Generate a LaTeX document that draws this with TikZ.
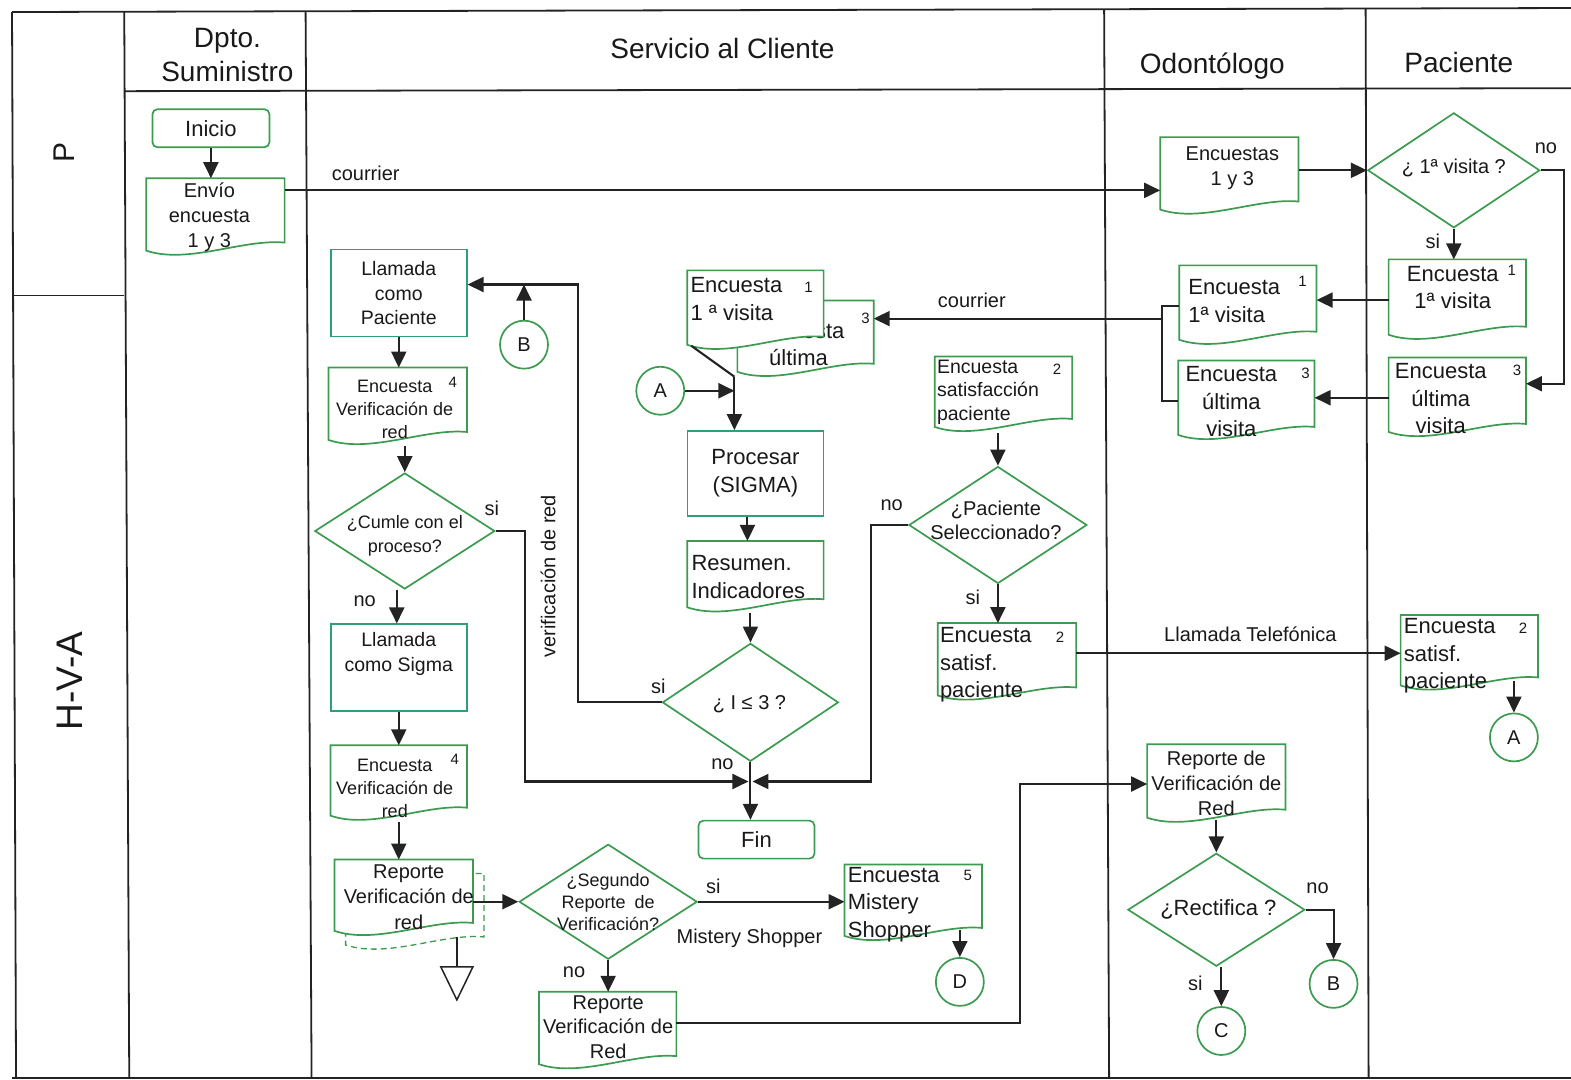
\documentclass[tikz,border=0pt]{standalone}
\usepackage{fontspec}
\setmainfont{Liberation Sans}
\usetikzlibrary{arrows.meta,shapes.geometric,calc}

\definecolor{grn}{RGB}{60,155,80}
\definecolor{teal2}{RGB}{45,160,120}
\definecolor{lc}{RGB}{35,35,35}
\definecolor{txt}{RGB}{25,25,25}

\newcommand\fA{\fontsize{20}{25}\selectfont}
\newcommand\fB{\fontsize{18}{23}\selectfont}
\newcommand\fC{\fontsize{22}{27.5}\selectfont}
\newcommand\fH{\fontsize{28}{34}\selectfont}
\newcommand\fN{\fontsize{15}{17}\selectfont}

% document symbol (wavy bottom) drawn around an empty box node
\newcommand\docpath[2][]{%
  \path[docline,#1] let \p1=(#2.south west), \p2=(#2.north east), \n1={\x2-\x1} in
    (\x1,\y2) -- (\x2,\y2) -- (\x2,{\y1+14pt})
    .. controls ({\x2-0.3*\n1},{\y1+18pt}) and ({\x1+0.3*\n1},{\y1-8pt}) ..
    (\x1,{\y1+6pt}) -- cycle;}

\begin{document}
\begin{tikzpicture}[x=1.002pt,y=-1.002pt,
  frame/.style={draw=lc, line width=1.8pt},
  ln/.style={draw=lc, line width=2.1pt},
  arr/.style={ln, -{Triangle[length=16pt,width=15pt]}},
  sz/.style 2 args={minimum width=#1pt, minimum height=#2pt},
  docline/.style={draw=grn, line width=1.7pt, fill=white},
  docbox/.style={inner sep=0pt},
  process/.style={draw=teal2, line width=1.7pt, fill=white, text=txt, font=\fA, align=center, inner sep=0pt},
  terminal/.style={process, draw=grn, rounded corners=5pt, font=\fC},
  decision/.style={diamond, draw=grn, line width=1.7pt, fill=white, inner sep=0pt},
  connector/.style={circle, draw=grn, line width=1.7pt, fill=white, minimum size=48pt, inner sep=0pt, text=txt, font=\fA},
  txtc/.style={inner sep=0pt, text=txt, font=\fA, align=center},
  txtl/.style={inner sep=0pt, text=txt, font=\fC, align=left, anchor=west},
  numlbl/.style={inner sep=0pt, text=txt, font=\fN},
  flowlbl/.style={inner sep=0pt, text=txt, font=\fA},
  hdr/.style={inner sep=0pt, text=txt, font=\fH, align=center}
]
\useasboundingbox (0,0) rectangle (1568,1077);

% ---------- swimlane frame ----------
\draw[frame] (12,12) -- (1568,8);
\draw[frame] (124,91) -- (1568,88);
\draw[frame] (12,295) -- (124,295);
\draw[frame] (12,1076) -- (1568,1076);
\draw[frame] (12,12) -- (16,1076);
\draw[frame] (124,11) -- (129,1076);
\draw[frame] (305,11) -- (311,1076);
\draw[frame] (1102,9) -- (1107,1076);
\draw[frame] (1363,9) -- (1366,1076);

\node[hdr] (hDpto) at (227,55) {Dpto.\\Suministro};
\node[hdr] (hServ) at (721,48) {Servicio al Cliente};
\node[hdr] (hOdon) at (1210,66) {Odontólogo};
\node[hdr] (hPac) at (1456,62) {Paciente};
\node[hdr, rotate=90, font=\fontsize{30}{34}\selectfont] (laneP) at (64,152) {P};
\node[hdr, rotate=90, font=\fontsize{37}{40}\selectfont] (laneHVA) at (70,680) {H-V-A};

% ---------- Dpto. Suministro ----------
\node[terminal, sz={117}{38}] (inicio) at (210.5,128) {Inicio};
\node[docbox, sz={138}{78}] (envio) at (215,217) {};
\docpath{envio}
\node[txtc] (envioT) at (209,217) {Envío\\encuesta\\1 y 3};

% ---------- Odontólogo ----------
\node[docbox, sz={138}{78}] (enc13) at (1227,176) {};
\docpath{enc13}
\node[txtc] (enc13T) at (1230,168) {Encuestas\\1 y 3};

\node[docbox, sz={137}{80}] (odE1) at (1245.5,305) {};
\docpath{odE1}
\node[txtl] (odE1T) at (1186,300.5) {Encuesta\\1ª visita};
\node[numlbl] (odE1N) at (1300,281) {1};

\node[docbox, sz={136}{80}] (odE3) at (1244,400) {};
\docpath{odE3}
\node[txtc, font=\fC] (odE3T) at (1229,401) {Encuesta\\última\\visita};
\node[numlbl] (odE3N) at (1303,373) {3};

\node[docbox, sz={138}{79}] (repOd) at (1214,782.5) {};
\docpath{repOd}
\node[txtc] (repOdT) at (1214,782) {Reporte de\\Verificación de\\Red};

\node[decision, sz={177}{113}] (q6) at (1214,908) {};
\node[txtc, font=\fC] (q6T) at (1216,908) {¿Rectifica ?};

\node[connector] (B2) at (1331,982) {B};
\node[connector] (C) at (1219,1029) {C};

% ---------- Paciente ----------
\node[decision, sz={172}{115}] (q1) at (1451,170) {};
\node[txtc] (q1T) at (1451,168) {¿ 1ª visita ?};

\node[docbox, sz={137}{81}] (pacE1) at (1454.5,299.5) {};
\docpath{pacE1}
\node[txtc, font=\fC] (pacE1T) at (1450,287) {Encuesta\\1ª visita};
\node[numlbl] (pacE1N) at (1509,270) {1};

\node[docbox, sz={137}{80}] (pacE3) at (1454.5,397) {};
\docpath{pacE3}
\node[txtc, font=\fC] (pacE3T) at (1438,398) {Encuesta\\última\\visita};
\node[numlbl] (pacE3N) at (1514,370) {3};

\node[docbox, sz={137}{76}] (pacE2) at (1466.5,652) {};
\docpath{pacE2}
\node[txtl] (pacE2T) at (1401,654.5) {Encuesta\\satisf.\\paciente};
\node[numlbl] (pacE2N) at (1520,627) {2};

\node[connector] (A2) at (1511,736) {A};

% ---------- Servicio al Cliente ----------
\node[docbox, sz={136}{77}] (svE3) at (804,338.5) {};
\docpath{svE3}
\node[txtc, font=\fC] (svE3T) at (797,344) {Encuesta\\última};
\node[numlbl] (svE3N) at (864,318) {3};

\node[docbox, sz={136}{80}] (svE1) at (754,310) {};
\docpath{svE1}
\node[txtl] (svE1T) at (689,298.5) {Encuesta\\1 ª visita};
\node[numlbl] (svE1N) at (807,287) {1};

\node[connector] (A1) at (659,390) {A};
\node[connector] (B1) at (523,344) {B};

\node[process, sz={136}{85}, font=\fC] (procesar) at (754,472.5) {\rule{0pt}{8pt}Procesar\\(SIGMA)};

\node[docbox, sz={136}{72}] (resumen) at (754,576) {};
\docpath{resumen}
\node[txtl] (resumenT) at (690,576) {Resumen.\\Indicadores};

\node[decision, sz={176}{118}] (q3) at (749,701) {};
\node[txtc] (q3T) at (748,703) {¿ I ≤ 3 ?};

\node[terminal, sz={116}{38}] (fin) at (755,838) {Fin};

\node[process, sz={136}{87}, font=\fontsize{19.5}{24.5}\selectfont] (llamPac) at (398,292.5) {Llamada\\como\\Paciente};

\node[docbox, sz={138}{78}] (E4a) at (397,406) {};
\docpath{E4a}
\node[txtc, font=\fB] (E4aT) at (394,409) {Encuesta\\Verificación de\\red};
\node[numlbl] (E4aN) at (452,382) {4};

\node[decision, sz={180}{116}] (q2) at (404,530) {};
\node[txtc, font=\fontsize{18}{24}\selectfont] (q2T) at (404,535) {¿Cumle con el\\proceso?};

\node[process, sz={136}{87}] (llamSig) at (398,666.5) {};
\node[txtc, font=\fontsize{19.5}{25}\selectfont] (llamSigT) at (398,652.5) {Llamada\\como Sigma};

\node[docbox, sz={136}{76}] (E4b) at (398,782) {};
\docpath{E4b}
\node[txtc, font=\fB] (E4bT) at (394,787) {Encuesta\\Verificación de\\red};
\node[numlbl] (E4bN) at (454,758) {4};

\node[docbox, sz={138}{77}] (repAd) at (414,910.5) {};
\docpath[dashed, dash pattern=on 6pt off 4pt, line width=1.3pt, fill=none]{repAd}
\node[docbox, sz={138}{77}] (repA) at (403,896.5) {};
\docpath{repA}
\node[txtc, font=\fontsize{20}{25.5}\selectfont] (repAT) at (408,895) {Reporte\\Verificación de\\red};

\coordinate (tri) at (456,965);
\draw[ln, line width=1.5pt] ($(tri)+(-16,0)$) -- ($(tri)+(16,0)$) -- ($(tri)+(0,33)$) -- cycle;

\node[decision, sz={178}{115}] (q4) at (607,900) {};
\node[txtc, font=\fontsize{18}{22}\selectfont] (q4T) at (607,900) {¿Segundo\\Reporte\enspace de\\Verificación?};

\node[docbox, sz={137}{78}] (repB) at (606.5,1029) {};
\docpath{repB}
\node[txtc, font=\fontsize{20}{24.5}\selectfont] (repBT) at (607,1025) {Reporte\\Verificación de\\Red};

\node[docbox, sz={137}{77}] (E5) at (911.5,901.5) {};
\docpath{E5}
\node[txtl] (E5T) at (846,902.5) {Encuesta\\Mistery\\Shopper};
\node[numlbl] (E5N) at (966,874) {5};

\node[connector] (D) at (958,980) {D};

\node[docbox, sz={137}{76}] (svE2a) at (1001.5,394) {};
\docpath{svE2a}
\node[txtl, font=\fontsize{19.5}{23.5}\selectfont] (svE2aT) at (935,391.5) {Encuesta\\satisfacción\\paciente};
\node[numlbl] (svE2aN) at (1055,369) {2};

\node[decision, sz={178}{117}] (q5) at (996,524) {};
\node[txtc, font=\fontsize{20}{24}\selectfont] (q5T) at (994,519) {¿Paciente\\Seleccionado?};

\node[docbox, sz={138}{78}] (svE2b) at (1005,661) {};
\docpath{svE2b}
\node[txtl] (svE2bT) at (938,663.5) {Encuesta\\satisf.\\paciente};
\node[numlbl] (svE2bN) at (1058,636) {2};

% ---------- connectors ----------
\draw[arr] (inicio.south) -- (inicio.south |- envio.north);
\coordinate (cA) at ($(envio.east)+(0,-27)$);
\draw[arr] (cA) -- (cA -| enc13.west);
\node[flowlbl] (lCour1) at (365,173) {courrier};

\draw[arr] (q1.west -| enc13.east) -- (q1.west);
\draw[arr] (q1.south) -- (q1.south |- pacE1.north);
\node[flowlbl] (lSi1) at (1430,241) {si};
\draw[arr] (q1.east) -- ++(23,0) |- ($(pacE3.east)+(0,-14)$);
\node[flowlbl] (lNo1) at (1543,148) {no};

\draw[arr] (pacE1.west) -- (pacE1.west -| odE1.east);
\draw[arr] (pacE3.west) -- (pacE3.west -| odE3.east);
\draw[ln] (odE1.west) -- ++(-17,0) |- (odE3.west);
\coordinate (brJ) at ($(odE1.west)+(-17,13)$);
\draw[arr] (brJ) -- (brJ -| svE3.east);
\node[flowlbl] (lCour2) at (970,300) {courrier};

\coordinate (jn) at (733,376);
\draw[ln] ($(svE1.south west)+(4,-5)$) -- (jn);
\draw[arr] (jn) -- (jn |- procesar.north);
\draw[arr] (A1.east) -- (A1.east -| jn);

\coordinate (p1) at ($(procesar.south)+(-8,0)$);
\draw[arr] (p1) -- (p1 |- resumen.north);
\draw[arr] (q3.north |- resumen.south) -- (q3.north);

\coordinate (vrTop) at (577,284);
\draw[arr] (q3.west) -| (vrTop) -- (vrTop -| llamPac.east);
\draw[arr] (B1.north) -- (B1.north |- vrTop);
\node[flowlbl] (lSi3) at (657,685) {si};
\node[flowlbl, rotate=90] (lVer) at (547,575) {verificación de red};

\coordinate (fj) at (749,780);
\draw[arr, shorten >=2pt] (q2.east) -- ++(29,0) |- (fj);
\draw[arr, shorten >=2pt] (q5.west) -- ++(-37,0) |- (fj);
\draw[arr] (q3.south) -- (q3.south |- fin.north);
\node[flowlbl] (lNo3) at (721,763) {no};
\node[flowlbl] (lSi2) at (491,507) {si};
\node[flowlbl] (lNo5) at (890,504) {no};

\draw[arr] (llamPac.south) -- (llamPac.south |- E4a.north);
\draw[arr] (q2.north |- E4a.south) -- (q2.north);
\coordinate (p2) at ($(q2.south)+(-8,0)$);
\draw[arr] (p2) -- (p2 |- llamSig.north);
\node[flowlbl] (lNo2) at (364,600) {no};
\draw[arr] (llamSig.south) -- (llamSig.south |- E4b.north);
\draw[arr] (E4b.south) -- (E4b.south |- repA.north);
\draw[arr] (q4.west -| repA.east) -- (q4.west);
\draw[ln, line width=1.5pt] (tri |- repA.south) -- (tri);

\draw[arr] (q4.east) -- (q4.east -| E5.west);
\node[flowlbl] (lSi4) at (712,885) {si};
\node[flowlbl] (lMist) at (748,937) {Mistery Shopper};
\draw[arr] (q4.south) -- (q4.south |- repB.north);
\node[flowlbl] (lNo4) at (573,970) {no};
\draw[arr] ($(D.north |- E5.south)+(0,-12)$) -- (D.north);
\draw[arr] ($(repB.east)+(0,-8)$) -- ++(343,0) |- (repOd.west);

\draw[arr] (q5.north |- svE2a.south) -- (q5.north);
\draw[arr] (q5.south) -- (q5.south |- svE2b.north);
\node[flowlbl] (lSi5) at (971,596) {si};
\draw[arr] (pacE2.west -| svE2b.east) -- (pacE2.west);
\node[flowlbl] (lTel) at (1248,633) {Llamada Telefónica};
\draw[arr] ($(A2.north |- pacE2.south)+(0,-10)$) -- (A2.north);

\draw[arr] ($(q6.north |- repOd.south)+(0,-4)$) -- (q6.north);
\draw[arr] (q6.east) -| (B2.north);
\node[flowlbl] (lNo6) at (1315,887) {no};
\draw[arr] (C.north |- q6.south) -- (C.north);
\node[flowlbl] (lSi6) at (1193,981) {si};

\end{tikzpicture}
\end{document}
